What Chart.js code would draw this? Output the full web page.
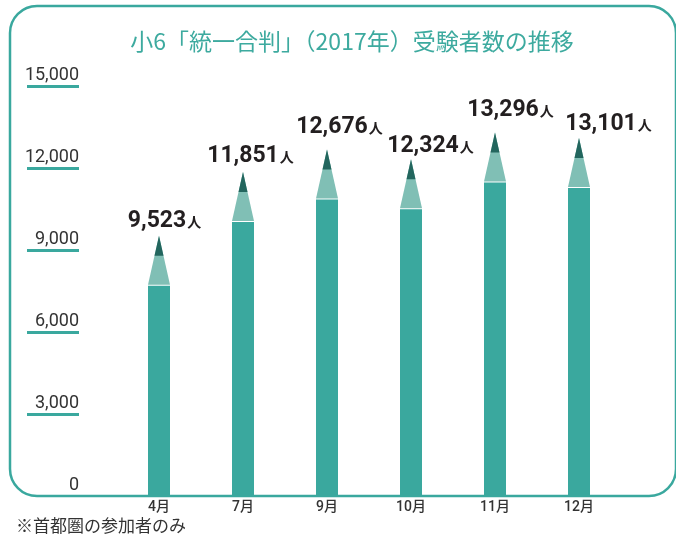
<!DOCTYPE html>
<html lang="ja">
<head>
<meta charset="UTF-8">
<title>小6「統一合判」（2017年）受験者数の推移</title>
<script src="https://cdn.jsdelivr.net/npm/chart.js@4/dist/chart.umd.min.js"></script>
<style>
  html, body { margin: 0; padding: 0; background: #fff; }
  #wrap { width: 676px; height: 535px; }
</style>
</head>
<body>
<div id="wrap"><canvas id="examChart" width="676" height="535"></canvas></div>
<script>
//-- data --
const months = ["4月", "7月", "9月", "10月", "11月", "12月"];
const examinees = [9523, 11851, 12676, 12324, 13296, 13101];
const yMin = 0;
const yMax = 15000;
const yStep = 3000;
const chartTitle = "小6「統一合判」（2017年）受験者数の推移";
const footnote = "※首都圏の参加者のみ";
const unitLabel = "人";

//-- colours --
const TEAL = "#3aa89e";
const TIP_LIGHT = "#80bfb5";
const TIP_DARK = "#23665e";
const TEXT_DARK = "#231f20";

//-- pencil tip size (px) --
const TIP_H = 50;
const DARK_H = 20;

//-- value label nudges (px): dx from bar centre, gap above the tip --
const LABEL_DX = [-2, 0, 5, 12, 8, 22];
const LABEL_GAP = [9, 10, 17, 7, 17, 8];

const JP_FONT = "'Noto Sans CJK JP', 'Noto Sans', sans-serif";

//-- frame, title, footnote, tick underlines and pencil tips --
const framePlugin = {
    id: "frame",
    beforeDatasetsDraw(chart) {
        const ctx = chart.ctx;
        ctx.save();
        //-- rounded frame --
        ctx.strokeStyle = TEAL;
        ctx.lineWidth = 2.5;
        ctx.beginPath();
        ctx.roundRect(10, 6, 666, 490, 27);
        ctx.stroke();

        //-- title --
        ctx.fillStyle = "#3daa9f";
        ctx.font = "23px " + JP_FONT;
        ctx.textAlign = "center";
        ctx.textBaseline = "middle";
        ctx.fillText(chartTitle, 352, 41);

        //-- footnote --
        ctx.fillStyle = "#333";
        ctx.font = "17px " + JP_FONT;
        ctx.textAlign = "left";
        ctx.fillText(footnote, 16, 526);

        //-- underline under each y tick label (not 0) --
        const y = chart.scales.y;
        ctx.strokeStyle = TEAL;
        ctx.lineWidth = 3;
        y.ticks.forEach(t => {
            if (t.value === 0) return;
            const py = Math.round(y.getPixelForValue(t.value)) + 0.5;
            ctx.beginPath();
            ctx.moveTo(27, py);
            ctx.lineTo(79, py);
            ctx.stroke();
        });
        ctx.restore();

        //-- clip bars so the top part becomes the pencil tip --
        const meta = chart.getDatasetMeta(0);
        ctx.save();
        ctx.beginPath();
        meta.data.forEach(bar => {
            const p = bar.getProps(["x", "y", "base", "width"], true);
            ctx.rect(p.x - p.width / 2, p.y + TIP_H, p.width, p.base - p.y - TIP_H + 2);
        });
        ctx.clip();
    },
    afterDatasetsDraw(chart) {
        const ctx = chart.ctx;
        ctx.restore();
        const meta = chart.getDatasetMeta(0);
        meta.data.forEach((bar, i) => {
            const p = bar.getProps(["x", "y", "base", "width"], true);
            const half = p.width / 2;
            const baseY = p.y + TIP_H - 1;
            //-- light cone --
            ctx.fillStyle = TIP_LIGHT;
            ctx.beginPath();
            ctx.moveTo(p.x - half, baseY);
            ctx.lineTo(p.x + half, baseY);
            ctx.lineTo(p.x, p.y);
            ctx.closePath();
            ctx.fill();
            //-- dark lead --
            const r = half * DARK_H / (TIP_H - 1);
            ctx.fillStyle = TIP_DARK;
            ctx.beginPath();
            ctx.moveTo(p.x - r, p.y + DARK_H);
            ctx.lineTo(p.x + r, p.y + DARK_H);
            ctx.lineTo(p.x, p.y);
            ctx.closePath();
            ctx.fill();

            //-- value label --
            const txt = examinees[i].toLocaleString("en-US");
            ctx.fillStyle = TEXT_DARK;
            ctx.textBaseline = "alphabetic";
            ctx.font = "bold 23px Roboto, sans-serif";
            ctx.textAlign = "center";
            const w = ctx.measureText(txt).width;
            const tx = p.x + LABEL_DX[i];
            const ty = p.y - LABEL_GAP[i];
            ctx.fillText(txt, tx, ty);
            ctx.font = "bold 14px " + JP_FONT;
            ctx.textAlign = "left";
            ctx.fillText(unitLabel, tx + w / 2 + 1, ty);
        });
    }
};

const ctx = document.getElementById("examChart").getContext("2d");
const examChart = new Chart(ctx, {
    type: "bar",
    data: {
        labels: months,
        datasets: [{
            label: "受験者数",
            data: examinees,
            backgroundColor: TEAL,
            borderWidth: 0,
            barThickness: 22
        }]
    },
    options: {
        responsive: false,
        animation: false,
        layout: {
            padding: { top: 86, right: 55, left: 0, bottom: 0 }
        },
        plugins: {
            legend: { display: false },
            tooltip: { enabled: false },
            title: { display: false }
        },
        scales: {
            x: {
                grid: { display: false, drawTicks: false },
                border: { display: false },
                ticks: {
                    color: "#333",
                    font: { family: "Roboto, 'Noto Sans CJK JP'", size: 14, weight: "500" },
                    padding: 3
                },
                afterFit(scale) { scale.height = 39; }
            },
            y: {
                min: yMin,
                max: yMax,
                grid: { display: false, drawTicks: false },
                border: { display: false },
                ticks: {
                    stepSize: yStep,
                    color: "#333",
                    font: { family: "Roboto", size: 18 },
                    padding: 38,
                    labelOffset: -11,
                    callback: v => v.toLocaleString("en-US")
                },
                afterFit(scale) {
                    scale.width = 117;
                    //-- labels sit above their tick, no extra room needed --
                    scale.paddingTop = 0;
                    scale.paddingBottom = 0;
                }
            }
        }
    },
    plugins: [framePlugin]
});
</script>
</body>
</html>
